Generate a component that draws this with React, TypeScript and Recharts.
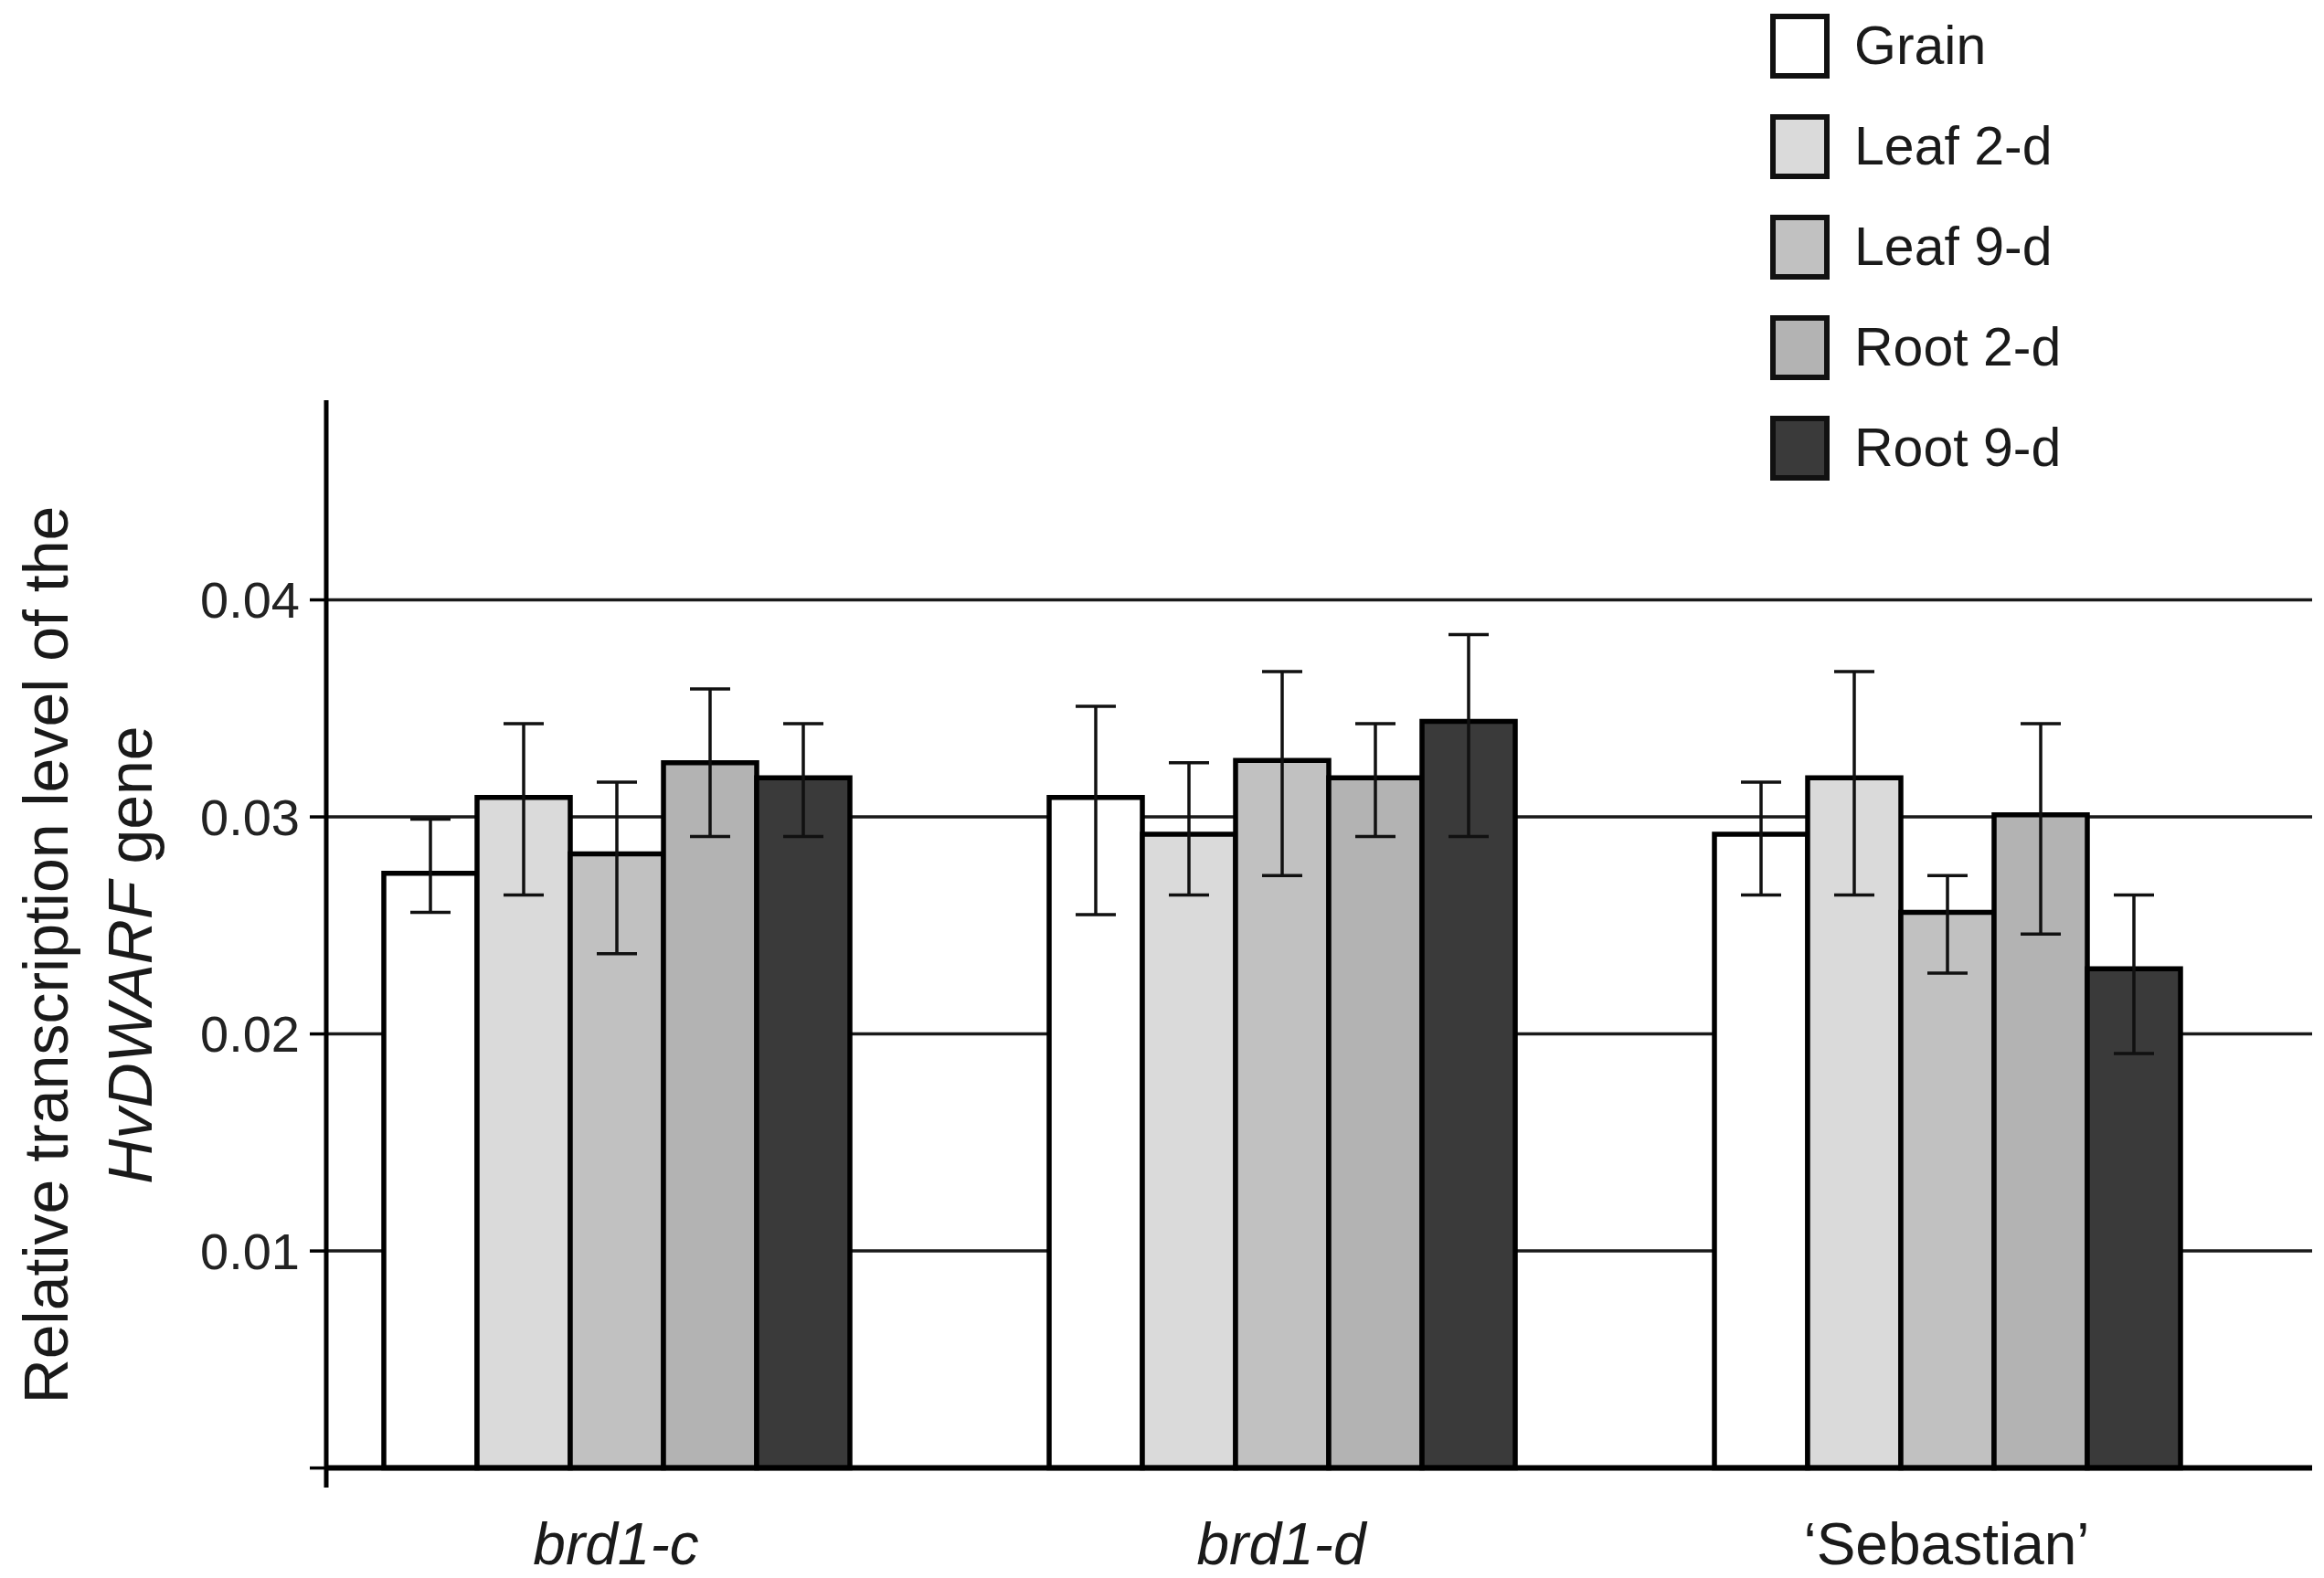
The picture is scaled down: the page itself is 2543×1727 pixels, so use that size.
import { Bar, BarChart, CartesianGrid, ErrorBar, Legend, ReferenceLine, XAxis, YAxis } from "recharts"

// genotypes on the x axis
const categories = ["brd1-c", "brd1-d", "\u2018Sebastian\u2019"]

// tissues / series
const seriesNames = ["Grain", "Leaf 2-d", "Leaf 9-d", "Root 2-d", "Root 9-d"]
const seriesColors = ["#ffffff", "#dadada", "#c1c1c1", "#b3b3b3", "#3a3a3a"]

// mean relative transcription level, per genotype
const grain = [0.0274, 0.0309, 0.0292]
const leaf2 = [0.0309, 0.0292, 0.0318]
const leaf9 = [0.0283, 0.0326, 0.0256]
const root2 = [0.0325, 0.0318, 0.0301]
const root9 = [0.0318, 0.0344, 0.023]

// top end of each error bar
const grainHigh = [0.0299, 0.0351, 0.0316]
const leaf2High = [0.0343, 0.0325, 0.0367]
const leaf9High = [0.0316, 0.0367, 0.0273]
const root2High = [0.0359, 0.0343, 0.0343]
const root9High = [0.0343, 0.0384, 0.0264]

// bottom end of each error bar
const grainLow = [0.0256, 0.0255, 0.0264]
const leaf2Low = [0.0264, 0.0264, 0.0264]
const leaf9Low = [0.0237, 0.0273, 0.0228]
const root2Low = [0.0291, 0.0291, 0.0246]
const root9Low = [0.0291, 0.0291, 0.0191]

const yTicks = [0, 0.01, 0.02, 0.03, 0.04]

const means = [grain, leaf2, leaf9, root2, root9]
const highs = [grainHigh, leaf2High, leaf9High, root2High, root9High]
const lows = [grainLow, leaf2Low, leaf9Low, root2Low, root9Low]

const data = categories.map((name, i) => {
  const row: Record<string, any> = { name }
  seriesNames.forEach((_, j) => {
    row[`v${j}`] = means[j][i]
    row[`e${j}`] = [means[j][i] - lows[j][i], highs[j][i] - means[j][i]]
  })
  return row
})

const FONT = "'Liberation Sans', Arial, sans-serif"

function CategoryTick({ x, y, payload }: any) {
  const italic = String(payload.value).startsWith("brd")
  return (
    <text
      x={x}
      y={y}
      dy={84}
      textAnchor="middle"
      fontSize={64}
      fontStyle={italic ? "italic" : "normal"}
      fill="#1a1a1a"
      fontFamily={FONT}
    >
      {payload.value}
    </text>
  )
}

function YTitle({ viewBox }: any) {
  const cy = viewBox.y + viewBox.height / 2 + 12
  return (
    <g fontFamily={FONT} fontSize={68} fill="#1a1a1a" textAnchor="middle">
      <text x={74} y={cy} transform={`rotate(-90, 74, ${cy})`}>
        Relative transcription level of the
      </text>
      <text x={166} y={cy} transform={`rotate(-90, 166, ${cy})`}>
        <tspan fontStyle="italic">HvDWARF</tspan> gene
      </text>
    </g>
  )
}

function LegendBox() {
  return (
    <div style={{ fontFamily: FONT }}>
      {seriesNames.map((name, j) => (
        <div key={name} style={{ display: "flex", alignItems: "center", height: 110 }}>
          <div
            style={{
              width: 65,
              height: 71,
              boxSizing: "border-box",
              border: "6px solid #111",
              background: seriesColors[j],
            }}
          />
          <span style={{ marginLeft: 27, fontSize: 59, lineHeight: 1, color: "#1a1a1a" }}>{name}</span>
        </div>
      ))}
    </div>
  )
}

export default function App() {
  return (
    <div style={{ background: "#fff" }}>
      <style>{`body{margin:0}`}</style>
      <BarChart
        width={2543}
        height={1727}
        data={data}
        margin={{ top: 438, right: 13, bottom: 0, left: 0 }}
        barCategoryGap={110}
        barGap={0}
        style={{ fontFamily: FONT }}
      >
        <CartesianGrid vertical={false} syncWithTicks stroke="#1a1a1a" strokeWidth={3.5} />
        <XAxis
          dataKey="name"
          padding={{ left: -47, right: 36 }}
          axisLine={false}
          tickLine={false}
          tickSize={0}
          tickMargin={0}
          height={99}
          interval={0}
          tick={<CategoryTick />}
        />
        <YAxis
          type="number"
          domain={[-0.0009, 0.0492]}
          ticks={yTicks}
          allowDataOverflow
          width={357}
          axisLine={{ stroke: "#000", strokeWidth: 5 }}
          tickLine={{ stroke: "#000", strokeWidth: 3.5 }}
          tickSize={18}
          tickMargin={11}
          tick={{ fontSize: 56, fill: "#222", fontFamily: FONT }}
          tickFormatter={(v: number) => (v === 0 ? "" : v.toFixed(2))}
          label={<YTitle />}
        />
        <Legend
          layout="vertical"
          align="center"
          verticalAlign="middle"
          wrapperStyle={{ left: 1937, top: -5, width: 420 }}
          content={<LegendBox />}
        />
        {seriesNames.map((name, j) => (
          <Bar
            key={name}
            dataKey={`v${j}`}
            name={name}
            fill={seriesColors[j]}
            stroke="#000"
            strokeWidth={5.5}
            isAnimationActive={false}
          >
            <ErrorBar dataKey={`e${j}`} width={22} stroke="#111" strokeWidth={3.5} isAnimationActive={false} />
          </Bar>
        ))}
        <ReferenceLine y={0} stroke="#000" strokeWidth={6} />
      </BarChart>
    </div>
  )
}
